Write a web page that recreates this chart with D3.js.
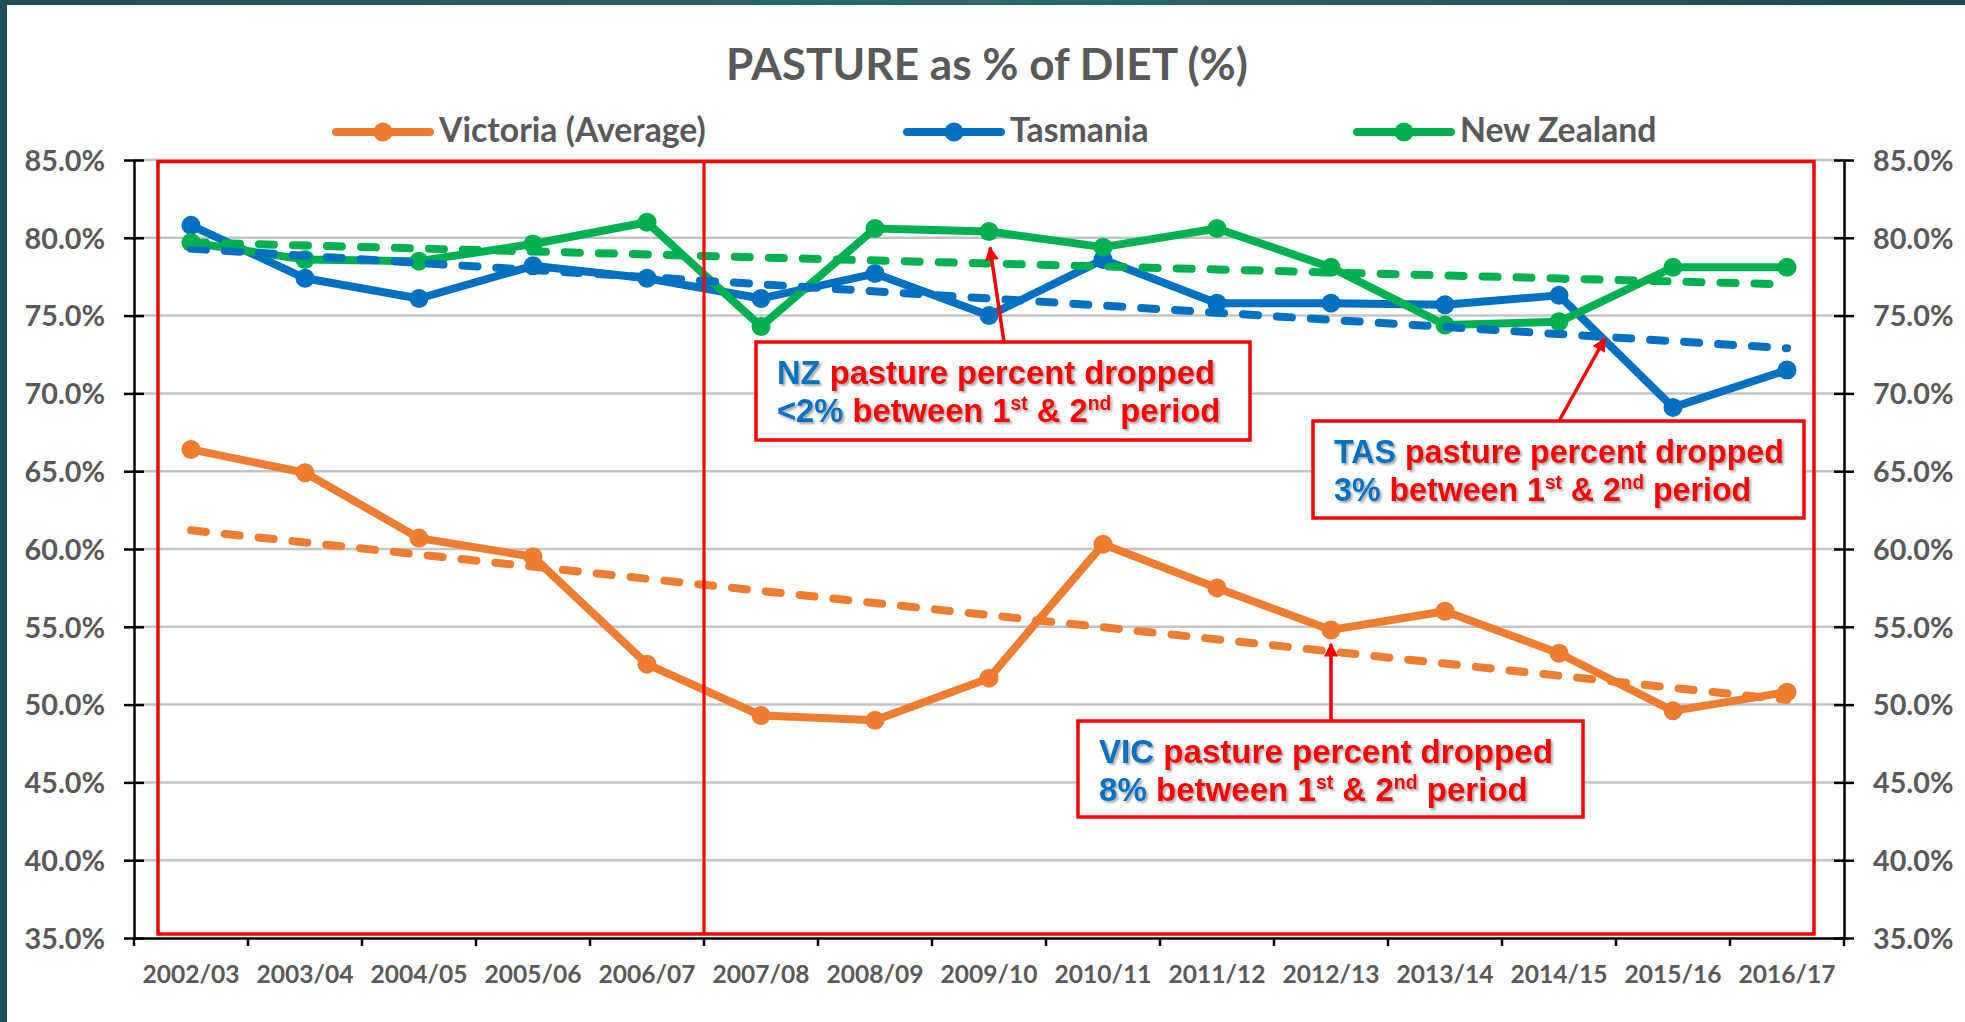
<!DOCTYPE html>
<html><head><meta charset="utf-8">
<script src="https://cdn.jsdelivr.net/npm/d3@7"></script>
<style>body{margin:0;background:#fff;overflow:hidden}</style>
</head><body>
<script>
// ---------- data ----------
const categories = ["2002/03","2003/04","2004/05","2005/06","2006/07","2007/08","2008/09","2009/10","2010/11","2011/12","2012/13","2013/14","2014/15","2015/16","2016/17"];
const victoria   = [66.4, 64.9, 60.7, 59.5, 52.6, 49.3, 49.0, 51.7, 60.3, 57.5, 54.8, 56.0, 53.3, 49.6, 50.8];
const tasmania   = [80.8, 77.4, 76.1, 78.2, 77.4, 76.1, 77.7, 75.0, 78.6, 75.8, 75.8, 75.7, 76.3, 69.1, 71.5];
const newZealand = [79.7, 78.6, 78.5, 79.6, 81.0, 74.3, 80.6, 80.4, 79.4, 80.6, 78.1, 74.4, 74.6, 78.1, 78.1];
// linear trendline end values (first and last category)
const victoriaTrend   = [61.2, 50.3];
const tasmaniaTrend   = [79.3, 72.9];
const newZealandTrend = [79.7, 77.0];
const yTicks = [35, 40, 45, 50, 55, 60, 65, 70, 75, 80, 85];
const seriesNames = ["Victoria (Average)", "Tasmania", "New Zealand"];
const chartTitle = "PASTURE as % of DIET (%)";

(function () {
// ---------- setup ----------
const W = 1965, H = 1022;
const C = {orange:"#ED7D31", blue:"#0070C0", green:"#00B050", red:"#FF0000", text:"#595959", grid:"#C4C4C4"};
const series = [
  {name: seriesNames[0], values: victoria,   trend: victoriaTrend,   color: C.orange},
  {name: seriesNames[1], values: tasmania,   trend: tasmaniaTrend,   color: C.blue},
  {name: seriesNames[2], values: newZealand, trend: newZealandTrend, color: C.green}
];

const svg = d3.select("body").append("svg").attr("width", W).attr("height", H)
  .style("font-family", "Lato, 'Open Sans', sans-serif");
const defs = svg.append("defs");

// background frame
const grad = defs.append("linearGradient").attr("id", "topgrad").attr("x1", "0%").attr("x2", "100%");
grad.append("stop").attr("offset", "0%").attr("stop-color", "#1E4C58");
grad.append("stop").attr("offset", "50%").attr("stop-color", "#2E6A67");
grad.append("stop").attr("offset", "100%").attr("stop-color", "#1B4653");
svg.append("rect").attr("width", W).attr("height", H).attr("fill", "#fff");
svg.append("rect").attr("x", 0).attr("y", 0).attr("width", W).attr("height", 5).attr("fill", "url(#topgrad)");
svg.append("rect").attr("x", 0).attr("y", 0).attr("width", 7).attr("height", H).attr("fill", "#1E4E59");

const shadow = defs.append("filter").attr("id", "shadow").attr("x", "-5%").attr("y", "-20%").attr("width", "115%").attr("height", "150%");
shadow.append("feDropShadow").attr("dx", 2).attr("dy", 2).attr("stdDeviation", 1.2)
  .attr("flood-color", "#000").attr("flood-opacity", 0.35);

defs.append("marker").attr("id", "arrow").attr("viewBox", "0 0 10 10")
  .attr("refX", 9).attr("refY", 5).attr("markerWidth", 17).attr("markerHeight", 14)
  .attr("markerUnits", "userSpaceOnUse").attr("orient", "auto")
  .append("path").attr("d", "M0,0 L10,5 L0,10 Z").attr("fill", C.red);

const pL = 134, pR = 1844, pT = 160, pB = 938;
const x = d3.scaleBand().domain(categories).range([pL, pR]).paddingInner(0).paddingOuter(0);
const cx = c => x(c) + x.bandwidth() / 2;
const y = d3.scaleLinear().domain([35, 85]).range([pB, pT]);

function fitSize(text, weight, target, base = 30) {
  const t = svg.append("text").style("font-weight", weight).style("font-size", base + "px").text(text);
  const w = t.node().getComputedTextLength();
  t.remove();
  return base * target / w;
}

// ---------- gridlines ----------
svg.append("g").selectAll("line").data(yTicks.filter(v => v > 35)).join("line")
  .attr("x1", pL).attr("x2", pR).attr("y1", d => y(d)).attr("y2", d => y(d))
  .attr("stroke", C.grid).attr("stroke-width", 2.5);

// ---------- axes ----------
const tickFont = fitSize("85.0%", "bold", 80.5);
const fmt = d => d.toFixed(1) + "%";

const gl = svg.append("g").attr("transform", `translate(${pL},0)`)
  .call(d3.axisLeft(y).tickValues(yTicks).tickFormat(fmt).tickSizeInner(10).tickSizeOuter(0).tickPadding(19));
const gr = svg.append("g").attr("transform", `translate(${pR},0)`)
  .call(d3.axisRight(y).tickValues(yTicks).tickFormat(fmt).tickSizeInner(10).tickSizeOuter(0).tickPadding(19));
gl.selectAll(".tick line").attr("x1", 10);
gr.selectAll(".tick line").attr("x1", -10);

const gb = svg.append("g").attr("transform", `translate(0,${pB})`)
  .call(d3.axisBottom(x).tickSize(0).tickSizeOuter(0));
const xFont = fitSize("2002/03", "bold", 97);
gb.selectAll(".tick text").attr("y", 45).attr("dy", null).style("font-size", xFont + "px");
gb.append("g").selectAll("line").data(categories.map(c => x(c)).concat([x.range()[1]])).join("line")
  .attr("x1", d => d).attr("x2", d => d).attr("y1", 0).attr("y2", 8)
  .attr("stroke", "#000").attr("stroke-width", 2.5);

[gl, gr].forEach(g => g.selectAll(".tick text").attr("dy", "0.36em").style("font-size", tickFont + "px"));
[gl, gr, gb].forEach(g => {
  g.attr("font-family", null).attr("font-size", null);
  g.selectAll(".domain").attr("stroke", "#000").attr("stroke-width", 2.5);
  g.selectAll(".tick line").attr("stroke", "#000").attr("stroke-width", 2.5);
  g.selectAll(".tick text").attr("fill", C.text).style("font-weight", "bold");
});

// ---------- series ----------
const line = d3.line().x((d, i) => cx(categories[i])).y(d => y(d));
const plot = svg.append("g");
series.forEach(s => {
  plot.append("path").attr("d", line(s.values)).attr("fill", "none")
    .attr("stroke", s.color).attr("stroke-width", 8).attr("stroke-linejoin", "round").attr("stroke-linecap", "round");
  plot.append("g").selectAll("circle").data(s.values).join("circle")
    .attr("cx", (d, i) => cx(categories[i])).attr("cy", d => y(d)).attr("r", 9.5).attr("fill", s.color);
});
series.forEach(s => {
  plot.append("line")
    .attr("x1", cx(categories[0])).attr("y1", y(s.trend[0]))
    .attr("x2", cx(categories[categories.length - 1])).attr("y2", y(s.trend[1]))
    .attr("stroke", s.color).attr("stroke-width", 8).attr("stroke-dasharray", "15,19").attr("stroke-linecap", "round");
});

// ---------- title ----------
const titleFont = fitSize(chartTitle, "bold", 522);
svg.append("text").attr("x", 987).attr("y", 80).attr("text-anchor", "middle")
  .style("font-size", titleFont + "px").style("font-weight", "bold").attr("fill", C.text).text(chartTitle);

// ---------- legend ----------
const legFont = fitSize(seriesNames[0], "bold", 267);
const legendPos = [336, 907, 1357];
series.forEach((s, i) => {
  const g = svg.append("g").attr("transform", `translate(${legendPos[i]},132)`);
  g.append("line").attr("x1", 0).attr("x2", 94).attr("stroke", s.color).attr("stroke-width", 8).attr("stroke-linecap", "round");
  g.append("circle").attr("cx", 47).attr("r", 9.5).attr("fill", s.color);
  g.append("text").attr("x", 103).attr("y", 10).style("font-size", legFont + "px").style("font-weight", "bold")
    .attr("fill", C.text).text(s.name);
});

// ---------- period box ----------
svg.append("rect").attr("x", 158).attr("y", 161.5).attr("width", 1814 - 158).attr("height", 934 - 161.5)
  .attr("fill", "none").attr("stroke", C.red).attr("stroke-width", 3.5);
svg.append("line").attr("x1", x("2007/08")).attr("x2", x("2007/08")).attr("y1", 161.5).attr("y2", 934)
  .attr("stroke", C.red).attr("stroke-width", 3.2);

// ---------- annotations ----------
function secondLine(lead) {
  return [{t: lead, c: C.blue}, {t: " between 1", c: C.red}, {t: "st", c: C.red, sup: true},
          {t: " & 2", c: C.red}, {t: "nd", c: C.red, sup: true}, {t: " period", c: C.red}];
}
const notes = [
  {box: [756, 342, 1250, 440], w: 438, lines: [[{t: "NZ", c: C.blue}, {t: " pasture percent dropped", c: C.red}], secondLine("<2%")],
   from: [1004, 342], to: [cx("2009/10") + 1, y(newZealand[7]) + 16]},
  {box: [1313, 421, 1804, 518], w: 450, lines: [[{t: "TAS", c: C.blue}, {t: " pasture percent dropped", c: C.red}], secondLine("3%")],
   from: [1559, 421], to: [1605, y(73.6) + 1]},
  {box: [1078, 721, 1583, 817], w: 454, lines: [[{t: "VIC", c: C.blue}, {t: " pasture percent dropped", c: C.red}], secondLine("8%")],
   from: [cx("2012/13"), 721], to: [cx("2012/13"), y(victoria[10]) + 14]}
];
const annFont = 34, supFont = 20;
notes.forEach(n => {
  const [x0, y0, x1, y1] = n.box;
  svg.append("line").attr("x1", n.from[0]).attr("y1", n.from[1]).attr("x2", n.to[0]).attr("y2", n.to[1])
    .attr("stroke", C.red).attr("stroke-width", 3.5).attr("marker-end", "url(#arrow)");
  svg.append("rect").attr("x", x0).attr("y", y0).attr("width", x1 - x0).attr("height", y1 - y0)
    .attr("fill", "#fff").attr("stroke", C.red).attr("stroke-width", 3.5);
  let sx = 1;
  n.lines.forEach((ln, li) => {
    const g = svg.append("g");
    const t = g.append("text").attr("x", 0).attr("y", 0)
      .style("font-family", "'Liberation Sans Narrow', 'Liberation Sans', Arial, sans-serif")
      .style("font-size", annFont + "px").style("font-weight", "bold")
      .attr("filter", "url(#shadow)");
    let prevSup = false;
    ln.forEach(p => {
      if (p.sup) {
        t.append("tspan").attr("fill", p.c).attr("dy", -12).style("font-size", supFont + "px").text(p.t);
      } else {
        t.append("tspan").attr("fill", p.c).attr("dy", prevSup ? 12 : null).text(p.t);
      }
      prevSup = !!p.sup;
    });
    if (li === 0) sx = n.w / t.node().getComputedTextLength();
    g.attr("transform", `translate(${x0 + 21},${y0 + 42 + li * 38}) scale(${sx},1)`);
  });
});
})();
</script>
</body></html>
